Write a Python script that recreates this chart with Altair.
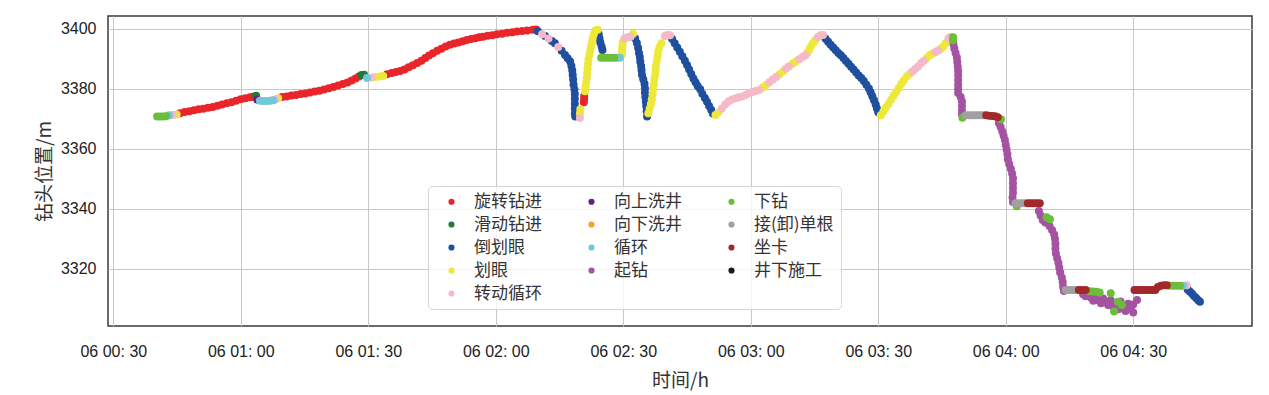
import altair as alt
import pandas as pd

# ---- categories (matplotlib plotting order) and colours ----
CATS = ["旋转钻进", "滑动钻进", "倒划眼", "划眼", "转动循环", "向上洗井", "向下洗井",
        "循环", "起钻", "下钻", "接(卸)单根", "坐卡", "井下施工"]
COLORS = ["#e8262a", "#1e7b3c", "#1f4f9f", "#eee83a", "#f5b9c8", "#6b1f7c", "#f2a22c",
          "#70c9d9", "#a552a2", "#6cbd3b", "#a0a0a0", "#a3282a", "#1a1a1a"]

# ---- data: time in minutes after 06 00:00, bit depth in m ----
rot_t = [45.7, 46.8, 47.9, 49.0, 50.1, 51.2, 52.3, 53.4, 54.5, 55.6, 56.7, 57.8, 58.9, 60.0, 61.1, 62.2, 62.9,
         69.7, 70.8, 71.9, 73.0, 74.1, 75.2, 76.3, 77.4, 78.5, 79.6, 80.7, 81.8, 82.9, 84.0, 85.1, 86.1, 87.0, 87.8,
         94.4, 95.5, 96.5, 97.5, 98.5, 99.5, 100.5, 101.5, 102.5, 103.4, 104.3, 105.2, 106.2, 107.2, 108.2, 109.2,
         110.2, 111.2, 112.2, 113.2, 114.2, 115.2, 116.1, 117.0, 118.1, 119.2, 120.3, 121.5, 122.7, 123.9, 125.0,
         126.2, 127.4, 128.7, 129.5,
         140.7, 140.8, 140.8]
rot_d = [3371.9, 3372.3, 3372.6, 3372.9, 3373.2, 3373.4, 3373.7, 3374.0, 3374.4, 3374.8, 3375.2, 3375.6, 3376.1,
         3376.6, 3376.9, 3377.2, 3377.4,
         3377.3, 3377.5, 3377.8, 3378.0, 3378.3, 3378.5, 3378.8, 3379.1, 3379.4, 3379.8, 3380.2, 3380.6, 3381.1,
         3381.6, 3382.1, 3382.8, 3383.5, 3384.1,
         3384.9, 3385.3, 3385.6, 3386.0, 3386.5, 3387.2, 3387.9, 3388.6, 3389.4, 3390.3, 3391.1, 3391.9, 3392.7,
         3393.4, 3394.1, 3394.7, 3395.1, 3395.5, 3395.9, 3396.3, 3396.6, 3396.9, 3397.2, 3397.4, 3397.7, 3397.9,
         3398.2, 3398.4, 3398.7, 3398.9, 3399.1, 3399.3, 3399.5, 3399.7, 3399.8,
         3375.6, 3376.6, 3377.6]

slide_t = [63.6, 88.4, 89.0]
slide_d = [3377.7, 3384.6, 3384.7]

backream_t = [129.9, 131.6, 133.2, 133.9, 135.5, 136.3, 136.9, 137.5, 137.8, 138.0, 138.1, 138.2, 138.3, 138.5,
              138.6, 138.6, 138.6, 138.6, 138.6, 138.7,
              144.2, 144.4, 144.6, 144.9, 145.1,
              152.8, 153.2, 153.5, 153.7, 153.9, 154.0, 154.2, 154.3, 154.4, 154.7, 155.0, 155.1, 155.1, 155.2,
              155.3, 155.4, 155.5, 155.6,
              161.5, 162.1, 162.7, 163.3, 163.9, 164.5, 165.0, 165.5, 166.0, 166.5, 167.0, 167.5, 168.1, 168.6,
              169.2, 169.7, 170.2, 170.7, 171.1,
              197.6, 198.2, 198.8, 199.4, 200.0, 200.6, 201.2, 201.8, 202.4, 203.0, 203.6, 204.2, 204.8, 205.4,
              206.0, 206.6, 207.2, 207.8, 208.2, 208.6, 209.0, 209.4, 209.7, 210.0,
              282.8, 283.3, 283.8, 284.3, 284.8, 285.3, 285.7]
backream_d = [3399.2, 3397.6, 3396.0, 3395.2, 3392.7, 3391.3, 3390.2, 3389.1, 3387.6, 3386.1, 3384.6, 3383.1,
              3381.5, 3379.9, 3378.3, 3376.7, 3375.1, 3373.5, 3371.8, 3370.8,
              3398.3, 3396.9, 3395.5, 3394.1, 3393.0,
              3396.8, 3395.3, 3393.6, 3392.0, 3390.6, 3389.1, 3387.6, 3386.2, 3384.7, 3383.2, 3381.7, 3380.2,
              3378.7, 3377.2, 3375.8, 3374.3, 3372.6, 3370.8,
              3396.6, 3395.2, 3393.8, 3392.4, 3390.9, 3389.4, 3388.0, 3386.5, 3385.0, 3383.5, 3382.2, 3381.0,
              3379.9, 3378.4, 3377.0, 3375.7, 3374.3, 3373.0, 3371.8,
              3396.7, 3395.7, 3394.7, 3393.8, 3392.9, 3392.0, 3391.2, 3390.3, 3389.3, 3388.4, 3387.4, 3386.5,
              3385.5, 3384.5, 3383.6, 3382.6, 3381.4, 3380.1, 3378.9, 3377.6, 3376.2, 3374.8, 3373.5, 3372.2,
              3313.2, 3312.5, 3311.8, 3311.0, 3310.3, 3309.6, 3309.1]

ream_t = [44.9, 68.8, 91.8, 92.8, 93.5, 139.8, 139.9,
          141.0, 141.1, 141.3, 141.4, 141.5, 141.6, 141.7, 141.8, 142.0, 142.2, 142.4, 142.6, 142.8, 143.1, 143.4, 144.0,
          149.7, 149.7, 149.8, 149.9, 152.3,
          155.9, 156.2, 156.5, 156.7, 156.9, 157.0, 157.2, 157.3, 157.5, 157.6, 157.7, 157.9, 158.1, 158.2, 158.5, 159.0,
          171.7, 172.4,
          182.8, 183.6, 186.8, 187.6, 189.8, 190.6, 193.4, 193.8, 194.2, 194.7, 195.2,
          210.6, 211.2, 211.8, 212.4, 213.0, 213.6, 214.2, 214.8, 215.4, 216.0, 216.7, 217.3,
          221.4, 222.1, 222.8, 224.8, 225.4, 225.9]
ream_d = [3371.5, 3376.9, 3384.0, 3384.1, 3384.3, 3371.8, 3373.2,
          3379.2, 3380.7, 3382.2, 3383.7, 3385.2, 3386.7, 3388.2, 3389.7, 3391.2, 3392.6, 3394.0, 3395.5, 3396.9,
          3398.3, 3399.5, 3399.7,
          3391.5, 3392.8, 3394.2, 3395.6, 3398.4,
          3371.9, 3373.4, 3375.0, 3376.6, 3378.2, 3379.9, 3381.5, 3383.1, 3384.7, 3386.3, 3387.8, 3389.4, 3391.0,
          3392.5, 3393.9, 3395.2,
          3371.3, 3372.2,
          3380.5, 3381.3, 3384.9, 3385.9, 3388.4, 3389.1, 3392.1, 3393.2, 3394.3, 3395.3, 3396.3,
          3371.2, 3372.5, 3373.8, 3375.0, 3376.4, 3377.7, 3378.9, 3380.2, 3381.6, 3382.9, 3384.1, 3384.9,
          3390.2, 3391.2, 3391.8, 3393.5, 3394.3, 3395.3]

rotcirc_t = [44.0, 68.1, 90.8, 130.9, 132.4, 134.7, 139.8, 150.3, 151.0, 151.7, 159.8, 160.4, 161.0,
             173.2, 174.0, 174.8, 175.6, 176.4, 177.2, 178.0, 178.8, 179.6, 180.4, 181.2, 182.0,
             184.4, 185.2, 186.0, 188.3, 189.0, 191.4, 192.2, 192.9, 195.8, 196.4, 197.0,
             218.0, 218.7, 219.4, 220.1, 220.7, 223.5, 224.1, 226.5, 227.0, 282.6]
rotcirc_d = [3371.3, 3376.5, 3383.8, 3398.2, 3396.8, 3394.0, 3370.3, 3396.8, 3397.2, 3397.4, 3397.6, 3398.0, 3397.9,
             3373.5, 3374.8, 3375.9, 3376.5, 3376.9, 3377.2, 3377.5, 3378.0, 3378.6, 3379.0, 3379.3, 3379.6,
             3382.2, 3383.1, 3384.0, 3386.8, 3387.5, 3389.9, 3390.6, 3391.2, 3397.3, 3397.9, 3398.0,
             3385.7, 3386.6, 3387.5, 3388.6, 3389.3, 3392.3, 3392.8, 3396.8, 3397.3, 3314.6]

washup_t = [63.9]
washup_d = [3376.4]

washdown_t = []
washdown_d = []

circ_t = [43.1, 64.5, 65.3, 66.1, 66.9, 67.6, 89.7, 148.6, 149.2, 281.7]
circ_d = [3371.2, 3376.1, 3376.0, 3376.0, 3376.1, 3376.2, 3383.6, 3390.4, 3390.4, 3314.4]

trip_out_t = [227.7, 227.9, 228.2, 228.5, 228.6, 228.7, 228.8, 228.8, 228.8, 228.8, 228.8, 228.8, 229.4, 229.7,
              229.7, 229.7, 229.7,
              238.4, 238.8, 239.2, 239.5, 239.8, 240.0, 240.2, 240.4, 240.5, 240.8, 241.2, 241.5, 241.7, 241.7,
              241.7, 241.7, 241.6, 241.7,
              247.8, 248.2, 248.7, 249.3, 250.3, 250.9, 251.4, 251.6, 251.7, 251.7, 251.8, 252.1, 252.4, 252.6,
              252.8, 253.2, 253.4, 253.5, 253.7,
              258.2, 258.8, 259.5, 260.1, 260.6, 261.2, 261.8, 262.4, 262.9, 263.5, 264.1, 264.7, 265.3, 265.9,
              266.5, 267.0, 267.6, 268.2, 268.8, 269.4, 270.0, 270.0, 270.9]
trip_out_d = [3395.0, 3393.5, 3392.0, 3390.5, 3389.0, 3387.5, 3386.0, 3384.5, 3383.0, 3381.5, 3380.0, 3378.6,
              3377.3, 3375.8, 3374.3, 3372.8, 3371.5,
              3368.6, 3367.3, 3365.8, 3364.4, 3363.0, 3361.4, 3359.8, 3358.2, 3356.6, 3355.0, 3353.4, 3351.8,
              3350.2, 3348.6, 3347.0, 3345.4, 3343.8, 3342.3,
              3339.3, 3337.8, 3336.3, 3335.5, 3334.3, 3333.0, 3331.5, 3330.0, 3328.4, 3326.8, 3325.2, 3323.6,
              3322.0, 3320.4, 3318.8, 3317.2, 3315.6, 3314.0, 3312.7,
              3311.6, 3310.9, 3311.2, 3310.4, 3309.4, 3310.6, 3309.6, 3308.6, 3310.2, 3309.0, 3308.0, 3309.6,
              3307.4, 3308.6, 3306.6, 3309.2, 3307.6, 3306.0, 3308.4, 3306.8, 3305.5, 3308.2, 3309.7]

trip_in_t = [40.3, 41.0, 41.7, 42.4, 144.8, 145.6, 146.4, 147.2, 147.9, 227.6, 227.6, 229.8, 238.9, 242.6,
             249.6, 250.4, 259.7, 260.5, 261.3, 262.1, 264.7, 266.4, 267.3, 265.5, 278.6, 279.4, 280.2, 281.0]
trip_in_d = [3370.8, 3370.8, 3370.8, 3370.9, 3390.4, 3390.4, 3390.4, 3390.4, 3390.4, 3397.2, 3396.2, 3370.4,
             3369.9, 3340.9, 3337.2, 3336.6, 3312.6, 3312.5, 3312.4, 3312.2, 3311.9, 3309.1, 3308.0, 3305.8,
             3314.4, 3314.4, 3314.4, 3314.4]

conn_t = [230.6, 231.3, 232.0, 232.7, 233.4, 234.1, 234.7, 242.3, 243.0, 243.7, 244.4, 254.1, 254.9, 255.7, 256.5]
conn_d = [3371.2] * 7 + [3341.9] * 4 + [3313.0] * 4

slips_t = [235.4, 236.1, 236.8, 237.5, 238.1, 245.2, 245.9, 246.6, 247.3, 248.0, 257.2, 258.0, 258.8,
           270.3, 271.0, 271.7, 272.4, 273.1, 273.8, 274.5, 275.2, 275.8, 276.5, 277.2, 277.9]
slips_d = [3371.2, 3371.1, 3371.0, 3370.9, 3370.6, 3341.9, 3341.9, 3341.9, 3341.9, 3341.9, 3313.0, 3313.0, 3313.0,
           3313.0, 3313.0, 3313.0, 3313.0, 3313.0, 3313.0, 3313.0, 3313.0, 3314.0, 3314.4, 3314.6, 3314.6]

downhole_t = []
downhole_d = []

SERIES = [(rot_t, rot_d), (slide_t, slide_d), (backream_t, backream_d), (ream_t, ream_d),
          (rotcirc_t, rotcirc_d), (washup_t, washup_d), (washdown_t, washdown_d), (circ_t, circ_d),
          (trip_out_t, trip_out_d), (trip_in_t, trip_in_d), (conn_t, conn_d), (slips_t, slips_d),
          (downhole_t, downhole_d)]

X_TICKS = [30, 60, 90, 120, 150, 180, 210, 240, 270]
Y_TICKS = [3320, 3340, 3360, 3380, 3400]

rows = []
for k, (cat, (ts, ds)) in enumerate(zip(CATS, SERIES)):
    if len(ts) != len(ds):
        raise ValueError(f"length mismatch in {cat}: {len(ts)} vs {len(ds)}")
    for t, d in zip(ts, ds):
        rows.append({"t": t, "depth": d, "op": cat, "k": k})
df = pd.DataFrame(rows)

# domain order chosen so Vega's 3-column grid shows columns of 5 / 4 / 4 entries
# in the same reading order as the original legend
LEG_IDX = [0, 1, 2, 3, 12, 5, 6, 7, 8, 4, 9, 10, 11]
LEG = [CATS[i] for i in LEG_IDX]
LEG_COLORS = [COLORS[i] for i in LEG_IDX]

CJK = "Noto Sans CJK SC"
LAT = "Liberation Sans"

chart = alt.Chart(df).mark_circle(size=64, opacity=1).encode(
    x=alt.X("t:Q",
            scale=alt.Scale(domain=[28.75, 297.95], nice=False, zero=False),
            axis=alt.Axis(values=X_TICKS,
                          labelExpr="utcFormat(utc(2024, 0, 6, 0, datum.value), '%d %H: %M')",
                          title="时间/h", grid=True, domain=False, ticks=False,
                          labelPadding=17, titlePadding=12)),
    y=alt.Y("depth:Q",
            scale=alt.Scale(domain=[3301.0, 3404.3], nice=False, zero=False),
            axis=alt.Axis(values=Y_TICKS, format="d", title="钻头位置/m", grid=True, domain=False,
                          ticks=False, labelPadding=12, titlePadding=6)),
    color=alt.Color("op:N", title=None,
                    scale=alt.Scale(domain=LEG, range=LEG_COLORS),
                    legend=alt.Legend(orient="none", legendX=320, legendY=170, columns=3,
                                      symbolType="circle", symbolSize=38, symbolOffset=8,
                                      symbolStrokeWidth=0, symbolOpacity=1,
                                      labelOffset=14, labelFontSize=17, labelFont=CJK,
                                      labelColor="#333333", rowPadding=5, columnPadding=33,
                                      padding=7, strokeColor="#d5d5d5",
                                      fillColor="rgba(255,255,255,0.8)", cornerRadius=4)),
    order=alt.Order("k:Q"),
).properties(
    width=1144, height=310,
    autosize=alt.AutoSizeParams(type="none"),
    padding={"left": 100, "top": 8, "right": 9, "bottom": 75},
    background="white",
).configure_axis(
    gridColor="#c8c8c8", gridWidth=1,
    labelFont=LAT, labelFontSize=16, labelColor="#222222",
    titleFont=CJK, titleFontSize=19, titleColor="#333333", titleFontWeight="normal",
).configure_view(
    stroke="#3a3a3a", strokeWidth=1.5,
)

chart.save("out.html", embed_options={"renderer": "svg", "actions": False})
